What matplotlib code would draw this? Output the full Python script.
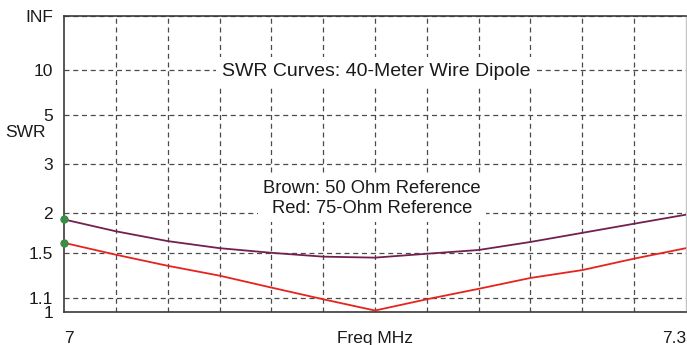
import numpy as np
import matplotlib
matplotlib.use('Agg')
import matplotlib.pyplot as plt
from matplotlib.ticker import FixedLocator, FixedFormatter

# frequency samples (MHz) and SWR readings for both references
freq = [7.000, 7.025, 7.050, 7.075, 7.100, 7.125, 7.150,
        7.175, 7.200, 7.225, 7.250, 7.275, 7.300]
swr_50 = [1.91, 1.75, 1.63, 1.55, 1.50, 1.46, 1.45,
          1.49, 1.53, 1.62, 1.73, 1.85, 1.98]
swr_75 = [1.61, 1.48, 1.37, 1.28, 1.18, 1.09, 1.01,
          1.09, 1.17, 1.26, 1.33, 1.44, 1.55]

swr_ticks = [1, 1.1, 1.5, 2, 3, 5, 10, 1e9]
swr_tick_labels = ['1', '1.1', '1.5', '2', '3', '5', '10', 'INF']
freq_ticks = [7.0, 7.3]
freq_tick_labels = ['7', '7.3']

FONT = 'Liberation Sans'
TEXT_COLOR = '#1a1a1a'
GRID_COLOR = '#4a4a4a'


def rho(s):
    s = np.asarray(s, dtype=float)
    return (s - 1.0) / (s + 1.0)


def rho_inv(r):
    r = np.clip(np.asarray(r, dtype=float), -0.999999, 0.9999999999)
    return (1.0 + r) / (1.0 - r)


def main():
    plt.rcParams['font.family'] = [FONT, 'DejaVu Sans']
    fig = plt.figure(figsize=(6.87, 3.45), dpi=100)
    ax = fig.add_axes([64 / 687, 33 / 345, 622 / 687, 296 / 345])

    ax.set_yscale('function', functions=(rho, rho_inv))
    ax.set_xlim(freq[0], freq[-1])
    ax.set_ylim(1, 1e9)

    ax.plot(freq, swr_50, color='#74204f', lw=1.3, zorder=4)
    ax.plot(freq, swr_75, color='#e5231f', lw=1.3, zorder=4)
    ax.plot([freq[0], freq[0]], [swr_50[0], swr_75[0]], 'o', ms=5,
            color='#3c8c44', clip_on=False, zorder=5)

    # ticks, labels, grid
    ax.yaxis.set_major_locator(FixedLocator(swr_ticks))
    ax.yaxis.set_major_formatter(FixedFormatter(swr_tick_labels))
    ax.yaxis.set_minor_locator(FixedLocator([]))
    ax.xaxis.set_major_locator(FixedLocator(freq_ticks))
    ax.xaxis.set_major_formatter(FixedFormatter(freq_tick_labels))
    ax.xaxis.set_minor_locator(FixedLocator(list(np.linspace(7.0, 7.3, 13)[1:-1])))
    ax.tick_params(which='both', length=0, labelsize=12.5, labelcolor=TEXT_COLOR)
    ax.tick_params(axis='y', pad=8)
    ax.tick_params(axis='x', pad=14)
    xl = ax.get_xticklabels()
    xl[0].set_ha('left')
    xl[1].set_ha('right')

    ax.set_axisbelow(True)
    ax.grid(axis='y', which='major', color=GRID_COLOR, lw=0.9, linestyle=(0, (4, 3)))
    ax.grid(axis='x', which='minor', color=GRID_COLOR, lw=0.9, linestyle=(0, (4, 3)))

    for side in ['left', 'bottom', 'top']:
        ax.spines[side].set_color('#3a3a3a')
        ax.spines[side].set_linewidth(1.2)
    ax.spines['right'].set_color('#c4c4c4')
    ax.spines['right'].set_linewidth(1.0)

    ax.set_xlabel('Freq MHz', fontsize=12.5, color=TEXT_COLOR)
    ax.xaxis.set_label_coords(0.5, -0.088)
    ax.xaxis.label.set_va('center')
    ax.set_ylabel('SWR', fontsize=12.5, color=TEXT_COLOR, rotation=0)
    ax.yaxis.set_label_coords(-0.095, 0.608)
    ax.yaxis.label.set_ha('left')
    ax.yaxis.label.set_va('center')

    box = dict(boxstyle='square,pad=0.3', fc='white', ec='none')
    ax.text(0.502, 0.814, 'SWR Curves: 40-Meter Wire Dipole', transform=ax.transAxes,
            ha='center', va='center', fontsize=14, color=TEXT_COLOR, bbox=box, zorder=3)
    ax.text(0.495, 0.384, 'Brown: 50 Ohm Reference\nRed: 75-Ohm Reference',
            transform=ax.transAxes, ha='center', va='center', multialignment='center',
            fontsize=13.2, color=TEXT_COLOR, linespacing=1.2, bbox=box, zorder=3)

    fig.savefig('out.png', dpi=100, facecolor='white')


if __name__ == '__main__':
    main()
